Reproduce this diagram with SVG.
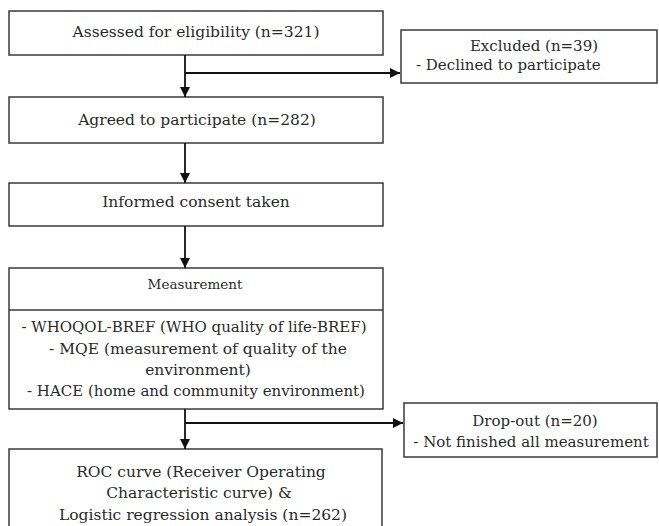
<svg xmlns="http://www.w3.org/2000/svg" width="659" height="526" viewBox="0 0 659 526">
<defs>
<marker id="ah" viewBox="0 0 10 10" refX="10" refY="5" markerWidth="10" markerHeight="10" markerUnits="userSpaceOnUse" orient="auto">
<path d="M0,0 L10,5 L0,10 z" fill="#111"/>
</marker>
</defs>
<style>
.box{fill:#fff;stroke:#3a3a3a;stroke-width:1.5}
.t{font-family:"DejaVu Serif","Liberation Serif",serif;fill:#2a2a2a;font-size:15.5px}
.s{font-size:15px}
.n{font-size:15px}
.m{font-size:13.5px}
.c{text-anchor:middle}
.ln{stroke:#111;stroke-width:1.8;fill:none}
</style>
<rect width="659" height="526" fill="#fff"/>
<g id="assessed">
<rect class="box" x="9" y="11" width="374" height="44"/>
<text class="t c" x="196" y="37">Assessed for eligibility (n=321)</text>
</g>
<g id="excluded">
<rect class="box" x="401" y="30" width="256" height="53"/>
<text class="t s c" x="534" y="51">Excluded (n=39)</text>
<text class="t s" x="416" y="70">- Declined to participate</text>
</g>
<g id="agreed">
<rect class="box" x="9" y="97" width="374" height="46"/>
<text class="t c" x="197" y="125">Agreed to participate (n=282)</text>
</g>
<g id="consent">
<rect class="box" x="9" y="183" width="374" height="43"/>
<text class="t c" x="196" y="207">Informed consent taken</text>
</g>
<g id="measurement">
<rect class="box" x="9" y="268" width="374" height="141"/>
<line class="box" x1="9" y1="310" x2="383" y2="310"/>
<text class="t m c" x="195" y="289">Measurement</text>
<text class="t n c" x="194" y="332">- WHOQOL-BREF (WHO quality of life-BREF)</text>
<text class="t c" x="198" y="354">- MQE (measurement of quality of the</text>
<text class="t c" x="198" y="375">environment)</text>
<text class="t n c" x="196" y="396">- HACE (home and community environment)</text>
</g>
<g id="dropout">
<rect class="box" x="404" y="403" width="253" height="54"/>
<text class="t s c" x="535" y="426">Drop-out (n=20)</text>
<text class="t s c" x="531" y="447">- Not finished all measurement</text>
</g>
<g id="roc">
<rect class="box" x="9" y="449" width="373" height="90"/>
<text class="t c" x="201" y="477">ROC curve (Receiver Operating</text>
<text class="t c" x="199" y="498">Characteristic curve) &amp;</text>
<text class="t c" x="203" y="520">Logistic regression analysis (n=262)</text>
</g>
<g id="connectors">
<line class="ln" x1="185" y1="55" x2="185" y2="97" marker-end="url(#ah)"/>
<line class="ln" x1="185" y1="73" x2="400" y2="73" marker-end="url(#ah)"/>
<line class="ln" x1="185" y1="143" x2="185" y2="183" marker-end="url(#ah)"/>
<line class="ln" x1="185" y1="226" x2="185" y2="268" marker-end="url(#ah)"/>
<line class="ln" x1="185" y1="409" x2="185" y2="449" marker-end="url(#ah)"/>
<line class="ln" x1="185" y1="423" x2="403" y2="423" marker-end="url(#ah)"/>
</g>
</svg>
